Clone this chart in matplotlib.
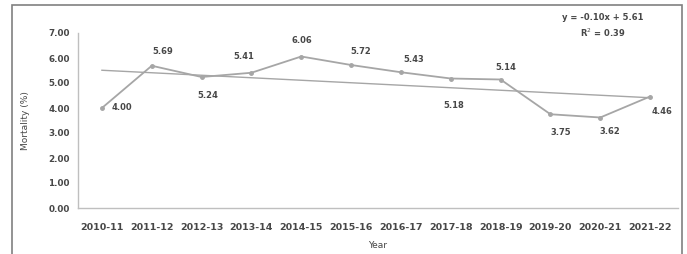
import numpy as np
import matplotlib
matplotlib.use('Agg')
import matplotlib.pyplot as plt
from matplotlib.patches import Rectangle

# ── Data ────────────────────────────────────────────────────────────────────
years = ['2010-11', '2011-12', '2012-13', '2013-14', '2014-15', '2015-16',
         '2016-17', '2017-18', '2018-19', '2019-20', '2020-21', '2021-22']
mortality = [4.00, 5.69, 5.24, 5.41, 6.06, 5.72, 5.43, 5.18, 5.14, 3.75, 3.62, 4.46]
trend_slope, trend_icpt, trend_r2 = -0.10, 5.61, 0.39

# label offsets from each point, in pixels (dx, dy)
LABEL_OFFSETS = [(20, 0), (11, 14), (6, -18), (-8, 16), (1, 16), (10, 13),
                 (13, 13), (3, -27), (5, 12), (10, -18), (10, -14), (12, -15)]

LINE_C = '#a6a6a6'
TEXT_C = '#474747'

fig = plt.figure(figsize=(6.87, 2.54), dpi=100, facecolor='white')
ax = fig.add_axes([78 / 687, 46 / 254, 600 / 687, 175 / 254])

x = np.arange(1, len(years) + 1)
ax.plot(x, mortality, color=LINE_C, lw=1.3, marker='o', ms=2.5, zorder=3)

# linear trendline
trend = trend_slope * x + trend_icpt
ax.plot(x, trend, color=LINE_C, lw=1.0, zorder=2)

for xi, yi, (dx, dy) in zip(x, mortality, LABEL_OFFSETS):
    ax.annotate(f'{yi:.2f}', (xi, yi), xytext=(dx, dy), textcoords='offset pixels',
                ha='center', va='center', fontsize=6, color=TEXT_C, fontweight='bold')

ax.text(0.874, 1.086, f'y = {trend_slope:.2f}x + {trend_icpt:.2f}', transform=ax.transAxes,
        ha='center', va='center', fontsize=6, color=TEXT_C, fontweight='bold')
ax.text(0.874, 1.0, f'R$^2$ = {trend_r2:.2f}', transform=ax.transAxes,
        ha='center', va='center', fontsize=6, color=TEXT_C, fontweight='bold')

ax.set_xlim(0.52, len(years) + 0.56)
ax.set_ylim(0, 7)
ax.set_xticks(x)
ax.set_xticklabels(years, fontsize=6.8, color=TEXT_C, fontweight='bold')
ax.set_yticks(np.arange(0, 8, 1))
ax.set_yticklabels([f'{v:.2f}' for v in range(8)], fontsize=6.3, color=TEXT_C, fontweight='bold')
ax.tick_params(axis='y', length=0, pad=6)
ax.tick_params(axis='x', length=0, pad=11)
ax.set_xlabel('Year', fontsize=6.5, color=TEXT_C, labelpad=6)
ax.set_ylabel('Mortality (%)', fontsize=6.5, color=TEXT_C, labelpad=13)

for s in ['top', 'right']:
    ax.spines[s].set_visible(False)
for s in ['left', 'bottom']:
    ax.spines[s].set_color('#bfbfbf')
    ax.spines[s].set_linewidth(1.0)

# outer frame
fig.patches.append(Rectangle((12 / 687, -0.05), 670 / 687, 1 - 5 / 254 + 0.05,
                             transform=fig.transFigure, fill=False,
                             edgecolor='#808080', lw=1.2))

fig.savefig('out.png', dpi=100, facecolor='white')
